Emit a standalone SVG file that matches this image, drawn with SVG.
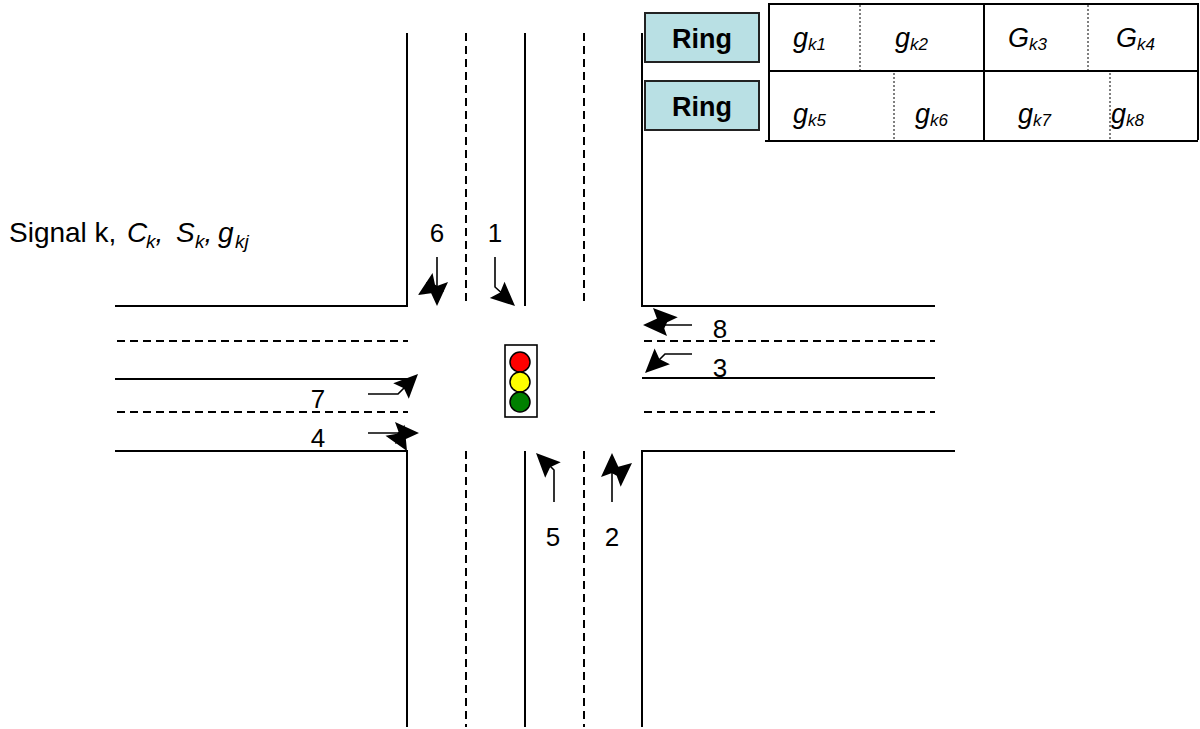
<svg xmlns="http://www.w3.org/2000/svg" xmlns:xlink="http://www.w3.org/1999/xlink" width="1200" height="729" viewBox="0 0 1200 729">
<style>
.road{stroke:#000;stroke-width:2;fill:none}
.dash{stroke:#000;stroke-width:2;fill:none;stroke-dasharray:8,5}
.arr{stroke:#000;stroke-width:1.6;fill:none}
.tl{stroke:#000;stroke-width:1.5}
.t{font-family:"Liberation Sans",Arial,sans-serif;fill:#000}
.num{font-size:26px}
.ring{font-size:27px;font-weight:bold}
.g{font-size:27px;font-style:italic}
.sub{font-size:17px}
.cell{stroke:#000;stroke-width:2;fill:none}
.dot{stroke:#000;stroke-width:1;stroke-dasharray:2,2;fill:none}
</style>
<defs>
<path id="ah" d="M0,0 L-24,-11 L-20,0 L-24,11 Z" fill="#000"/>
</defs>
<rect width="1200" height="729" fill="#fff"/>
<g id="roads">
<path class="road" d="M407,33 V306 H115"/>
<path class="road" d="M525,33 V306"/>
<path class="road" d="M642,33 V306 H935"/>
<path class="road" d="M115,451 H407 V727"/>
<path class="road" d="M525,451 V727"/>
<path class="road" d="M955,451 H642 V727"/>
<path class="road" d="M115,379 H408"/>
<path class="road" d="M642,378 H935"/>
<path class="dash" d="M466,33 V306"/>
<path class="dash" d="M584,33 V306"/>
<path class="dash" d="M466,451 V727"/>
<path class="dash" d="M584,451 V727"/>
<path class="dash" d="M117,341 H408"/>
<path class="dash" d="M117,412 H408"/>
<path class="dash" d="M644,341 H935"/>
<path class="dash" d="M644,412 H935"/>
</g>
<g id="signal">
<rect x="505" y="345" width="32" height="72" fill="#fff" stroke="#000" stroke-width="1.6"/>
<circle class="tl" cx="520" cy="362" r="10" fill="#ff0000"/>
<circle class="tl" cx="520" cy="382" r="10" fill="#ffff00"/>
<circle class="tl" cx="520" cy="402" r="10" fill="#008000"/>
</g>
<g id="connectors">
<path class="arr" d="M495,257 V287 L505,296"/>
<use xlink:href="#ah" transform="translate(515,306) rotate(42)"/>
<path class="arr" d="M437,257 V290"/>
<use xlink:href="#ah" transform="translate(437,306) rotate(90)"/>
<use xlink:href="#ah" transform="translate(418,295) rotate(148)"/>
<path class="arr" d="M692,325 H658"/>
<use xlink:href="#ah" transform="translate(643,325) rotate(180)"/>
<use xlink:href="#ah" transform="translate(653,308) rotate(-135)"/>
<path class="arr" d="M692,354 H665 L656,363"/>
<use xlink:href="#ah" transform="translate(645,373) rotate(136)"/>
<path class="arr" d="M368,394 H398 L408,384"/>
<use xlink:href="#ah" transform="translate(418,374) rotate(-45)"/>
<path class="arr" d="M368,433 H404"/>
<use xlink:href="#ah" transform="translate(419,433) rotate(0)"/>
<use xlink:href="#ah" transform="translate(407,451) rotate(60)"/>
<path class="arr" d="M554,502 V470 L546,462"/>
<use xlink:href="#ah" transform="translate(536,453) rotate(-135)"/>
<path class="arr" d="M612,502 V468"/>
<use xlink:href="#ah" transform="translate(612,453) rotate(-90)"/>
<use xlink:href="#ah" transform="translate(632,463) rotate(-40)"/>
</g>
<g id="labels">
<text class="t num" x="437" y="242" text-anchor="middle">6</text>
<text class="t num" x="495" y="242" text-anchor="middle">1</text>
<text class="t num" x="720" y="338" text-anchor="middle">8</text>
<text class="t num" x="720" y="377" text-anchor="middle">3</text>
<text class="t num" x="318" y="408" text-anchor="middle">7</text>
<text class="t num" x="318" y="447" text-anchor="middle">4</text>
<text class="t num" x="553" y="546" text-anchor="middle">5</text>
<text class="t num" x="612" y="546" text-anchor="middle">2</text>
</g>
<g id="signal-label">
<text class="t" x="9" y="242" font-size="28">Signal k, <tspan x="127" font-style="italic">C</tspan><tspan x="146" font-style="italic" font-size="19" dy="6">k</tspan><tspan font-style="italic" dy="-6">, </tspan><tspan x="176" font-style="italic">S</tspan><tspan x="195" font-style="italic" font-size="19" dy="6">k</tspan><tspan font-style="italic" dy="-6">, </tspan><tspan x="218" font-style="italic">g</tspan><tspan x="235" font-style="italic" font-size="19" dy="6">kj</tspan></text>
</g>
<g id="ring1">
<rect x="645" y="13" width="114" height="49" fill="#b9e0e4" stroke="#222" stroke-width="2"/>
<text class="t ring" x="702" y="48" text-anchor="middle">Ring</text>
</g>
<g id="ring2">
<rect x="645" y="81" width="114" height="49" fill="#b9e0e4" stroke="#222" stroke-width="2"/>
<text class="t ring" x="702" y="116" text-anchor="middle">Ring</text>
</g>
<g id="table">
<path class="cell" d="M769,141 V4 H1198 V140"/>
<path class="cell" d="M769,71 H1198"/>
<path class="cell" d="M984,4 V141"/>
<path class="cell" d="M765,141 H1198"/>
<path class="dot" d="M860,5 V70"/>
<path class="dot" d="M1088,5 V70"/>
<path class="dot" d="M894,73 V140"/>
<path class="dot" d="M1110,73 V140"/>
<text class="t g" x="793" y="47">g<tspan class="sub" dy="3">k1</tspan></text>
<text class="t g" x="895" y="47">g<tspan class="sub" dy="3">k2</tspan></text>
<text class="t g" x="1008" y="47">G<tspan class="sub" dy="3">k3</tspan></text>
<text class="t g" x="1116" y="47">G<tspan class="sub" dy="3">k4</tspan></text>
<text class="t g" x="793" y="123">g<tspan class="sub" dy="3">k5</tspan></text>
<text class="t g" x="915" y="123">g<tspan class="sub" dy="3">k6</tspan></text>
<text class="t g" x="1018" y="123">g<tspan class="sub" dy="3">k7</tspan></text>
<text class="t g" x="1111" y="123">g<tspan class="sub" dy="3">k8</tspan></text>
</g>
</svg>
